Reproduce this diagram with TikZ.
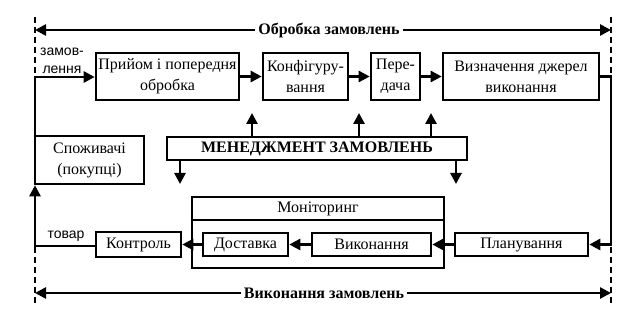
\documentclass[tikz,border=0pt]{standalone}
\usepackage{fontspec}
\setmainfont{Liberation Serif}
\newfontfamily\lsans{Liberation Sans}
\usetikzlibrary{arrows.meta}
\begin{document}
\begin{tikzpicture}[x=1pt,y=-1pt,
  box/.style={draw,line width=2.6pt,inner sep=0pt,align=center,font=\fontsize{16}{21}\selectfont},
  con/.style={line width=2.6pt},
  arr/.style={line width=2.6pt,-{Triangle[length=11pt,width=11pt]}},
  dashline/.style={line width=2.6pt,dash pattern=on 6pt off 4pt},
  blabel/.style={font=\fontsize{16}{18}\selectfont\bfseries,inner sep=3pt},
  slabel/.style={font=\lsans\fontsize{14}{18}\selectfont,align=center,inner sep=0pt}]
\useasboundingbox (0,0) rectangle (644,312);
% boxes
\node[box,minimum width=143pt,minimum height=47pt] (prijom) at (167.5,76.5) {Прийом і попередня\\обробка};
\node[box,minimum width=85pt,minimum height=47pt] (konf) at (305.5,76.5) {Конфігуру-\\вання};
\node[box,minimum width=49pt,minimum height=47pt] (pered) at (395.5,76.5) {Пере-\\дача};
\node[box,minimum width=156pt,minimum height=47pt] (vyzn) at (521,76.5) {Визначення джерел\\виконання};
\node[box,minimum width=109pt,minimum height=48pt] (spozh) at (89.5,160) {Споживачі\\(покупці)};
\node[box,minimum width=300pt,minimum height=23pt,font=\fontsize{16}{18}\selectfont\bfseries] (men) at (317,148.5) {МЕНЕДЖМЕНТ ЗАМОВЛЕНЬ};
\node[box,minimum width=252pt,minimum height=71pt] (mon) at (318,232.5) {};
\node[box,draw=none,minimum width=252pt,minimum height=23pt] (montitle) at (318,208.5) {Моніторинг};
\draw[con] (mon.west |- 0,220) coordinate (m1) -- (mon.east |- 0,220) coordinate (m2);
\node[box,minimum width=85pt,minimum height=23pt] (dost) at (245.5,244.5) {Доставка};
\node[box,minimum width=119pt,minimum height=23pt] (vyk) at (371.5,244.5) {Виконання};
\node[box,minimum width=85pt,minimum height=25pt] (kontr) at (138.5,244.5) {Контроль};
\node[box,minimum width=133pt,minimum height=23pt] (plan) at (521.5,244.5) {Планування};
% dashed boundaries
\coordinate (LT) at (35,17); \coordinate (LB) at (35,305);
\coordinate (RT) at (611,17); \coordinate (RB) at (611,305);
\draw[dashline] (LT) -- (LB);
\draw[dashline] (RT) -- (RB);
% top and bottom labels
\node[blabel] (top) at (329,30) {Обробка замовлень};
\node[blabel] (bot) at (324,293) {Виконання замовлень};
\draw[arr] (top.west) -- (top.west -| LT);
\draw[arr] (top.east) -- (top.east -| RT);
\draw[arr] (bot.west) -- (bot.west -| LB);
\draw[arr] (bot.east) -- (bot.east -| RB);
% top row flow
\coordinate (lz) at (35,77);
\draw[arr] (spozh.north -| lz) -- (lz) -- (lz -| prijom.west);
\draw[arr] (prijom) -- (konf);
\draw[arr] (konf) -- (pered);
\draw[arr] (pered) -- (vyzn);
\coordinate (rz) at (611,76.5);
\coordinate (rp) at (611,244.5);
\draw[arr] (vyzn.east) -- (rz) -- (rp) -- (plan.east);
\draw[arr] (plan) -- (vyk);
\draw[arr] (vyk) -- (dost);
\draw[arr] (dost) -- (kontr);
\coordinate (lt) at (35,246);
\draw[arr] (kontr.west |- lt) -- (lt) -- (spozh.south -| lt);
% labels
\node[slabel] (zam) at (62,61) {замов-\\лення};
\node[slabel] (tov) at (66,236) {товар};
% management arrows
\coordinate (u1) at (252,113); \coordinate (u2) at (359,113); \coordinate (u3) at (431,113);
\draw[arr] (men.north -| u1) -- (u1);
\draw[arr] (men.north -| u2) -- (u2);
\draw[arr] (men.north -| u3) -- (u3);
\coordinate (d1) at (180,184); \coordinate (d2) at (456,184);
\draw[arr] (men.south -| d1) -- (d1);
\draw[arr] (men.south -| d2) -- (d2);
\end{tikzpicture}
\end{document}
